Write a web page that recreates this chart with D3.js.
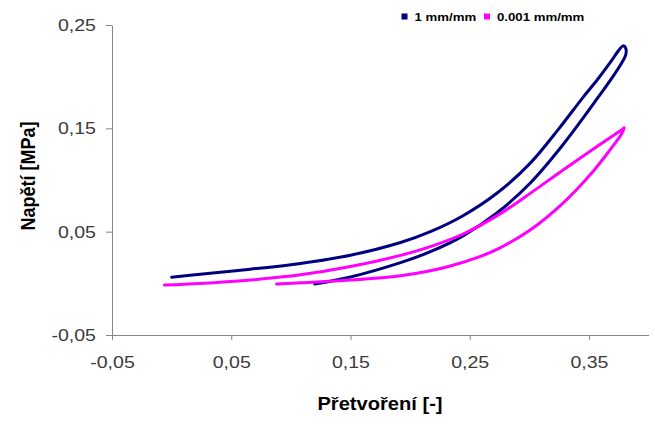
<!DOCTYPE html>
<html><head><meta charset="utf-8">
<script src="https://cdn.jsdelivr.net/npm/d3@7"></script>
<style>body{margin:0;background:#fff} svg{display:block}</style>
</head><body>
<svg id="c" width="655" height="424"></svg>
<script>
const seriesNames = ["1 mm/mm", "0.001 mm/mm"];
const seriesColors = ["#000080", "#FF00FF"];
// 1 mm/mm : loading branch then unloading branch
const blueX = [0.000,0.024,0.066,0.108,0.150,0.192,0.217,0.244,0.273,0.301,0.325,0.345,0.357,0.368,0.375,0.3785,0.3808,0.3808,0.378,0.372,0.357,0.328,0.301,0.273,0.244,0.217,0.192,0.150,0.120];
const blueY = [0.0060,0.0088,0.0137,0.0193,0.0272,0.0395,0.0500,0.0652,0.0874,0.1166,0.1500,0.1800,0.1970,0.2140,0.2255,0.2298,0.2275,0.2210,0.2145,0.2035,0.1789,0.1339,0.0974,0.0683,0.0457,0.0306,0.0201,0.0062,-0.0007];
// 0.001 mm/mm : loading branch then unloading branch
const pinkX = [-0.006,0.024,0.066,0.108,0.150,0.192,0.217,0.244,0.273,0.301,0.328,0.357,0.372,0.378,0.3795,0.377,0.368,0.351,0.328,0.301,0.275,0.259,0.233,0.217,0.192,0.150,0.108,0.088];
const pinkY = [-0.0017,-0.0002,0.0032,0.0082,0.0162,0.0271,0.0356,0.0475,0.0655,0.0873,0.1094,0.1326,0.1443,0.1490,0.1505,0.1440,0.1297,0.1050,0.0774,0.0518,0.0341,0.0261,0.0165,0.0122,0.0074,0.0032,0.0005,-0.0007];
const xTicks = [-0.05, 0.05, 0.15, 0.25, 0.35];
const yTicks = [-0.05, 0.05, 0.15, 0.25];
const xTitle = "Přetvoření [-]";
const yTitle = "Napětí [MPa]";

const svg = d3.select("#c");
const FONT = "'Liberation Sans', Arial, sans-serif";
const SX = 1.15;
const x = d3.scaleLinear().domain([-0.05, 0.4]).range([112, 648.6]);
const y = d3.scaleLinear().domain([-0.05, 0.25]).range([335, 25]);
const fmt = d => (d < 0 ? "-" : "") + Math.abs(d).toFixed(2).replace(".", ",");

const gx = svg.append("g").attr("transform", `translate(0,${y(-0.05)})`)
  .call(d3.axisBottom(x).tickValues(xTicks).tickFormat(fmt).tickSize(5).tickSizeOuter(0).tickPadding(16));
const gy = svg.append("g").attr("transform", `translate(${x(-0.05)},0)`)
  .call(d3.axisLeft(y).tickValues(yTicks).tickFormat(fmt).tickSize(6).tickSizeOuter(0).tickPadding(8));
[gx, gy].forEach(g => {
  g.select(".domain").attr("stroke", "#868686").attr("stroke-width", 1);
  g.selectAll(".tick line").attr("stroke", "#868686");
  g.selectAll(".tick text").attr("fill", "#3a3a3a").attr("font-family", FONT)
    .attr("font-size", 17).attr("transform", `scale(${SX},1)`);
});

const line = d3.line().x(d => x(d[0])).y(d => y(d[1])).curve(d3.curveCatmullRom.alpha(0.5));
const series = [d3.zip(blueX, blueY), d3.zip(pinkX, pinkY)];
series.forEach((s, i) => {
  svg.append("path").datum(s).attr("d", line).attr("fill", "none")
    .attr("stroke", seriesColors[i]).attr("stroke-width", 3)
    .attr("stroke-linejoin", "round").attr("stroke-linecap", "round");
});

// axis titles
svg.append("text").attr("transform", `translate(380,410) scale(${SX},1)`)
  .attr("text-anchor", "middle").attr("font-family", FONT).attr("font-weight", "bold")
  .attr("font-size", 17.5).attr("fill", "#000").text(xTitle);
svg.append("text").attr("transform", `translate(35,176) scale(${SX},1) rotate(-90)`)
  .attr("text-anchor", "middle").attr("font-family", FONT).attr("font-weight", "bold")
  .attr("font-size", 18).attr("fill", "#000").text(yTitle);

// legend
const legX = [401.5, 484];
seriesNames.forEach((n, i) => {
  svg.append("rect").attr("x", legX[i]).attr("y", 13.5).attr("width", 6).attr("height", 6)
    .attr("fill", seriesColors[i]);
  svg.append("text").attr("transform", `translate(${legX[i] + 13},21) scale(${SX},1)`)
    .attr("font-family", FONT).attr("font-weight", "bold").attr("font-size", 11.5)
    .attr("fill", "#000").text(n);
});
</script>
</body></html>
